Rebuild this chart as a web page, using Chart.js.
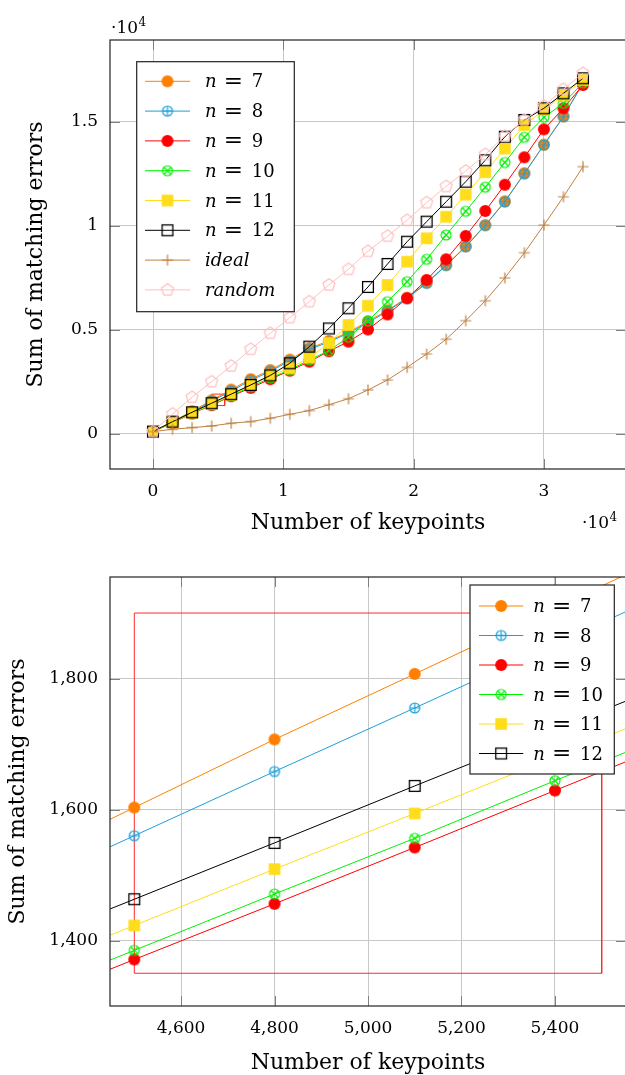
<!DOCTYPE html>
<html>
<head>
<meta charset="utf-8">
<script src="https://cdn.jsdelivr.net/npm/chart.js@4.4.1/dist/chart.umd.min.js"></script>
<style>
 html,body{margin:0;padding:0;background:#fff;overflow:hidden;width:625px;height:1075px;}
 canvas{position:absolute;left:0;}
 #overview{top:0}
 #zoom{top:550px}
</style>
</head>
<body>
<canvas id="overview" width="650" height="550"></canvas>
<canvas id="zoom" width="650" height="540"></canvas>
<script>
// overview: every 1500 keypoints
const keypoints=[0,1500,3000,4500,6000,7500,9000,10500,12000,13500,15000,16500,18000,19500,21000,22500,24000,25500,27000,28500,30000,31500,33000];
const errN7=[100,580,1080,1603,2120,2620,3060,3560,4110,4460,4880,5400,5930,6540,7260,8110,9010,10030,11170,12520,13900,15260,16860];
const errN8=[100,560,1040,1560,2055,2560,3000,3500,4058,4400,4840,5330,5900,6500,7230,8087,8990,10010,11150,12500,13880,15240,16850];
const errN9=[100,520,970,1371,1800,2200,2620,3030,3462,3962,4423,5010,5731,6510,7390,8385,9505,10707,11972,13289,14635,15645,16765];
const errN10=[100,530,990,1385,1815,2260,2680,3063,3543,3991,4640,5419,6347,7308,8385,9553,10693,11852,13040,14251,15213,15886,16876];
const errN11=[100,548,1010,1423,1865,2330,2789,3144,3650,4361,5226,6149,7150,8270,9395,10433,11496,12573,13712,14842,15563,16285,17000];
const errN12=[100,577,1029,1463,1900,2341,2800,3385,4183,5058,6029,7053,8159,9231,10193,11154,12116,13145,14280,15083,15645,16366,17088];
const errIdeal=[100,210,290,370,500,580,740,930,1110,1390,1680,2100,2580,3190,3830,4540,5430,6390,7490,8700,10030,11390,12840];
const errRandom=[100,950,1750,2500,3255,4060,4830,5580,6350,7150,7900,8770,9500,10260,11110,11890,12630,13430,14310,15080,15760,16560,17330];

// zoomed part: every 300 keypoints
const zoomKeypoints=[4200,4500,4800,5100,5400,5700];
const zoomN7=[1499,1603,1707,1807,1908,2008];
const zoomN8=[1462,1560,1658,1755,1853,1950];
const zoomN9=[1285,1371,1456,1542,1629,1716];
const zoomN10=[1299,1385,1471,1556,1644,1730];
const zoomN11=[1337,1423,1509,1594,1680,1766];
const zoomN12=[1377,1463,1549,1636,1722,1808];

// zoom window shown as red box
const boxX=[4500,5500];
const boxY=[1350,1900];

const seriesLabels=['n = 7','n = 8','n = 9','n = 10','n = 11','n = 12','ideal','random'];
const overviewXTicks=[0,10000,20000,30000];
const overviewYTicks=[0,5000,10000,15000];
const zoomXTicks=[4600,4800,5000,5200,5400];
const zoomYTicks=[1400,1600,1800];

const family='"DejaVu Serif", serif';
const seriesColors=['#ff8000','#1c9fd9','#ff0000','#00f000','#ffdd1a','#000000','#bf8040','#ffbfbf'];
const seriesMarks=['dot','oplus','dot','otimes','square','box','plus','penta'];

function mark(kind,color){
 const c=document.createElement('canvas');
 c.width=c.height=16;
 const g=c.getContext('2d');
 g.translate(8,8);
 g.strokeStyle=color;g.fillStyle=color;g.lineWidth=1.2;
 if(kind==='dot'){g.beginPath();g.arc(0,0,6,0,2*Math.PI);g.fill();}
 if(kind==='oplus'||kind==='otimes'){
   g.beginPath();g.arc(0,0,5,0,2*Math.PI);g.stroke();
   if(kind==='otimes')g.rotate(Math.PI/4);
   g.beginPath();g.moveTo(-5,0);g.lineTo(5,0);g.moveTo(0,-5);g.lineTo(0,5);g.stroke();
 }
 if(kind==='square')g.fillRect(-5.8,-5.8,11.6,11.6);
 if(kind==='box'){g.lineWidth=1.3;g.strokeRect(-5.4,-5.4,10.8,10.8);}
 if(kind==='plus'){g.beginPath();g.moveTo(-5.5,0);g.lineTo(5.5,0);g.moveTo(0,-5.5);g.lineTo(0,5.5);g.stroke();}
 if(kind==='penta'){
   g.beginPath();
   for(let i=0;i<5;i++){const a=-Math.PI/2+i*2*Math.PI/5;g.lineTo(6.3*Math.cos(a),6.3*Math.sin(a));}
   g.closePath();g.stroke();
 }
 return c;
}
const marks=seriesMarks.map((k,i)=>mark(k,seriesColors[i]));

function series(xs,ys,i){
 return {label:seriesLabels[i],data:xs.map((x,j)=>({x:x,y:ys[j]})),borderColor:seriesColors[i],
   backgroundColor:seriesColors[i],borderWidth:1,pointStyle:marks[i],pointRadius:6,pointHoverRadius:6,
   tension:0,fill:false,order:20-i};
}
function zoomBox(){
 return {data:[{x:boxX[0],y:boxY[0]},{x:boxX[0],y:boxY[1]},{x:boxX[1],y:boxY[1]},{x:boxX[1],y:boxY[0]},{x:boxX[0],y:boxY[0]}],
   borderColor:'#ff2a2a',borderWidth:1,pointRadius:0,fill:false,order:100};
}

// frame + inner ticks like pgfplots
const frame={id:'frame',afterDraw(chart){
 const {ctx,chartArea:a,scales}=chart;
 ctx.save();
 ctx.strokeStyle='#808080';ctx.lineWidth=1;
 ctx.beginPath();
 scales.x.ticks.forEach(t=>{
   const x=Math.round(scales.x.getPixelForValue(t.value))+0.5;
   ctx.moveTo(x,a.top);ctx.lineTo(x,a.top+10);ctx.moveTo(x,a.bottom);ctx.lineTo(x,a.bottom-10);
 });
 scales.y.ticks.forEach(t=>{
   const y=Math.round(scales.y.getPixelForValue(t.value))+0.5;
   ctx.moveTo(a.left,y);ctx.lineTo(a.left+10,y);ctx.moveTo(a.right,y);ctx.lineTo(a.right-10,y);
 });
 ctx.stroke();
 ctx.strokeStyle='#222';ctx.lineWidth=1.2;
 ctx.strokeRect(a.left,a.top,a.width,a.height);
 ctx.restore();
}};

const boxLegend={id:'boxLegend',afterDraw(chart,args,o){
 const ctx=chart.ctx;
 ctx.save();
 ctx.fillStyle='#fff';ctx.fillRect(o.x,o.y,o.w,o.h);
 ctx.strokeStyle='#222';ctx.lineWidth=1.2;ctx.strokeRect(o.x,o.y,o.w,o.h);
 chart.data.datasets.filter(d=>d.label).forEach((d,i)=>{
   const y=o.row0+i*o.rowH;
   ctx.strokeStyle=d.borderColor;ctx.lineWidth=1;
   ctx.beginPath();ctx.moveTo(o.x+o.l0,y);ctx.lineTo(o.x+o.l1,y);ctx.stroke();
   const m=d.pointStyle;
   ctx.drawImage(m,o.x+(o.l0+o.l1)/2-m.width/2,y-m.height/2);
   const t=o.x+o.tx,base=y+6;
   const parts=d.label.split(' = ');
   ctx.fillStyle='#000';ctx.textBaseline='alphabetic';ctx.textAlign='left';
   ctx.font='italic 18px '+family;
   ctx.fillText(parts[0],t,base);
   if(parts[1]){
     ctx.font='23px '+family;
     ctx.textAlign='center';ctx.fillText('=',t+28.3,base+0.5);
     ctx.font='18px '+family;
     ctx.textAlign='left';ctx.fillText(parts[1],t+46.7,base);
   }
 });
 ctx.restore();
}};

const power={id:'power',afterDraw(chart,args,o){
 const ctx=chart.ctx;
 ctx.save();
 ctx.fillStyle='#000';ctx.textAlign='left';ctx.textBaseline='alphabetic';
 (o.items||[]).forEach(p=>{
   ctx.font='17px '+family;
   ctx.fillText('\u00b710',p.x,p.y);
   const w=ctx.measureText('\u00b710').width;
   ctx.font='12px '+family;
   ctx.fillText('4',p.x+w+0.5,p.y-7);
 });
 ctx.restore();
}};

function scaleOpts(min,max,ticks,fmt,title,vertical,fit,titlePad){
 return {type:'linear',min:min,max:max,
   afterBuildTicks:a=>{a.ticks=ticks.map(v=>({value:v}));},
   afterFit:s=>{if(vertical)s.width=fit;else s.height=fit;},
   ticks:{callback:fmt,color:'#000',font:{family:family,size:17},padding:12,maxRotation:0,autoSkip:false},
   grid:{color:'#c8c8c8',lineWidth:1,drawTicks:false},
   border:{display:false},
   title:{display:true,text:title,color:'#000',font:{family:family,size:22},padding:titlePad}};
}

function makeChart(id,datasets,sx,sy,pad,legend,powers){
 return new Chart(document.getElementById(id),{
   type:'line',
   data:{datasets:datasets},
   options:{responsive:false,animation:false,devicePixelRatio:1,
     layout:{padding:pad},
     scales:{x:sx,y:sy},
     plugins:{legend:{display:false},tooltip:{enabled:false},boxLegend:legend,power:{items:powers}}},
   plugins:[frame,boxLegend,power]
 });
}

const tenK=v=>String(v/10000);
const comma=v=>v.toLocaleString('en-US');

const overviewSets=[errN7,errN8,errN9,errN10,errN11,errN12,errIdeal,errRandom].map((ys,i)=>series(keypoints,ys,i));
overviewSets.push(zoomBox());
makeChart('overview',overviewSets,
 scaleOpts(-3300,36300,overviewXTicks,tenK,'Number of keypoints',false,81,{bottom:14}),
 scaleOpts(-1700,18930,overviewYTicks,tenK,'Sum of matching errors',true,110,{top:23}),
 {left:0,top:40,right:24,bottom:0},
 {x:136.7,y:61.7,w:157.6,h:250,row0:81.3,rowH:29.8,l0:8.3,l1:53.3,tx:68.3},
 [{x:111,y:32.7},{x:582,y:528.3}]);

const zoomSets=[zoomN7,zoomN8,zoomN9,zoomN10,zoomN11,zoomN12].map((ys,i)=>series(zoomKeypoints,ys,i));
zoomSets.push(zoomBox());
makeChart('zoom',zoomSets,
 scaleOpts(4448,5552,zoomXTicks,comma,'Number of keypoints',false,84,{bottom:14}),
 scaleOpts(1300,1955,zoomYTicks,comma,'Sum of matching errors',true,110,{top:5}),
 {left:0,top:27,right:24,bottom:0},
 {x:470,y:35,w:144.3,h:189,row0:56,rowH:29.5,l0:9,l1:53.3,tx:63.3},
 []);
</script>
</body>
</html>
